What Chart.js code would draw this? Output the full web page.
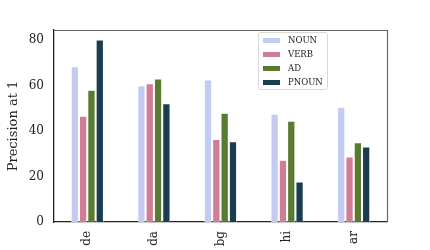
<!DOCTYPE html>
<html>
<head>
<meta charset="utf-8">
<script src="https://cdn.jsdelivr.net/npm/chart.js@4"></script>
<style>
  html, body { margin: 0; padding: 0; background: #fff; }
  #wrap { width: 430px; height: 250px; }
</style>
</head>
<body>
<div id="wrap"><canvas id="chart" width="430" height="250"></canvas></div>
<script>
var languages = ["de", "da", "bg", "hi", "ar"];
var nounValues = [68.4, 60.0, 62.5, 47.5, 50.5];
var verbValues = [46.6, 60.9, 36.3, 27.2, 28.6];
var adValues = [58.0, 63.0, 47.9, 44.4, 34.9];
var pnounValues = [80.1, 52.1, 35.4, 17.7, 33.0];
var yTicks = [0, 20, 40, 60, 80];

var serif = "'DejaVu Serif', serif";

// legend box drawn inside the plot, like matplotlib
var innerLegend = {
  id: 'innerLegend',
  afterDraw: function (chart) {
    var ctx = chart.ctx;
    var a = chart.chartArea;
    ctx.save();
    // top and right spines (lighter)
    ctx.strokeStyle = '#666';
    ctx.lineWidth = 1.2;
    ctx.beginPath();
    ctx.moveTo(a.left, a.top + 0.5);
    ctx.lineTo(a.right + 0.5, a.top + 0.5);
    ctx.lineTo(a.right + 0.5, a.bottom);
    ctx.stroke();

    var x0 = 258, y0 = 32, w = 69, h = 57;
    ctx.fillStyle = 'rgba(255,255,255,0.85)';
    ctx.strokeStyle = '#d8d8d8';
    ctx.lineWidth = 1;
    ctx.beginPath();
    ctx.roundRect(x0 + 0.5, y0 + 0.5, w, h, 2);
    ctx.fill();
    ctx.stroke();

    ctx.font = "8.5px " + serif;
    ctx.textBaseline = 'middle';
    chart.data.datasets.forEach(function (ds, i) {
      var yy = y0 + 8 + i * 14;
      ctx.fillStyle = ds.backgroundColor;
      ctx.fillRect(x0 + 5, yy - 2, 17, 5);
      ctx.fillStyle = '#222';
      ctx.fillText(ds.label, x0 + 30, yy + 0.5);
    });
    ctx.restore();
  }
};

new Chart(document.getElementById('chart'), {
  type: 'bar',
  data: {
    labels: languages,
    datasets: [
      { label: 'NOUN', data: nounValues, backgroundColor: '#c3cbf2' },
      { label: 'VERB', data: verbValues, backgroundColor: '#d07d94' },
      { label: 'AD', data: adValues, backgroundColor: '#587a31' },
      { label: 'PNOUN', data: pnounValues, backgroundColor: '#1b3d50' }
    ]
  },
  options: {
    responsive: false,
    animation: false,
    layout: { padding: { top: 30, right: 43, left: 0, bottom: 0 } },
    datasets: {
      bar: {
        categoryPercentage: 0.5,
        barPercentage: 0.9,
        borderColor: '#ffffff',
        borderWidth: 0.6
      }
    },
    plugins: {
      legend: { display: false },
      tooltip: { enabled: false }
    },
    scales: {
      x: {
        grid: { display: false, drawTicks: false },
        border: { display: true, color: '#222', width: 1.3 },
        ticks: {
          color: '#222',
          font: { family: serif, size: 12 },
          minRotation: 90,
          maxRotation: 90,
          padding: 9
        },
        afterFit: function (scale) { scale.height = 28; }
      },
      y: {
        min: 0,
        max: 84.5,
        grid: { display: false, drawTicks: false },
        border: { display: true, color: '#222', width: 1.3 },
        afterBuildTicks: function (scale) {
          scale.ticks = yTicks.map(function (v) { return { value: v }; });
        },
        ticks: {
          color: '#222',
          font: { family: serif, size: 12 },
          padding: 10
        },
        title: {
          display: true,
          text: 'Precision at 1',
          color: '#222',
          font: { family: serif, size: 13 },
          padding: { top: 6, bottom: 0 }
        },
        afterFit: function (scale) { scale.width = 54; }
      }
    }
  },
  plugins: [innerLegend]
});
</script>
</body>
</html>
